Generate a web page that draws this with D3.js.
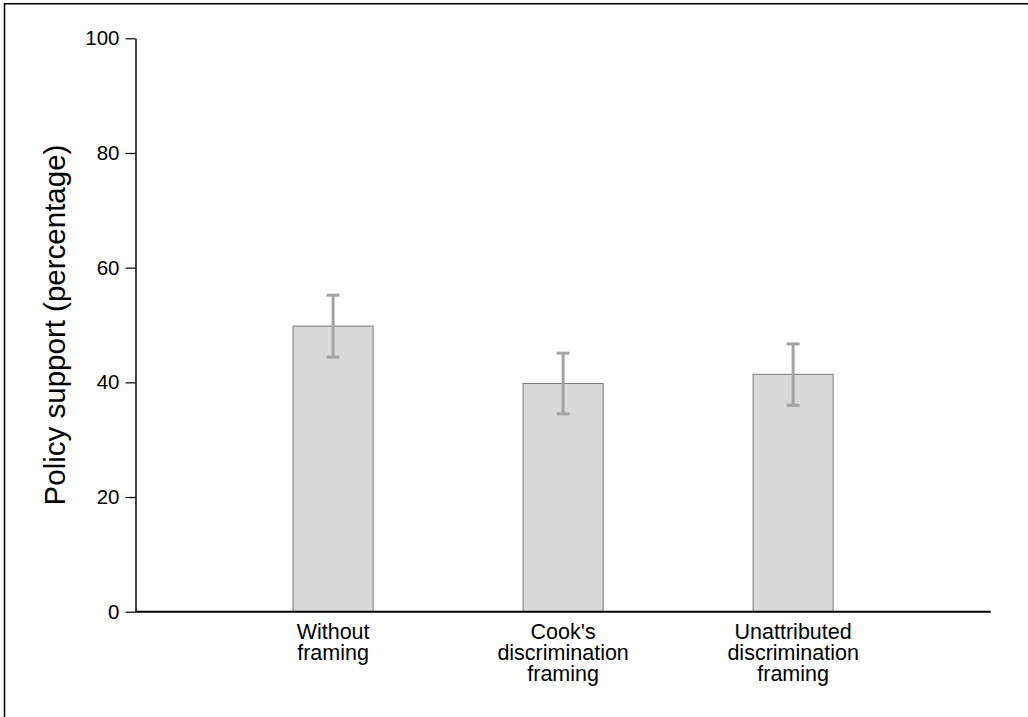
<!DOCTYPE html>
<html>
<head>
<meta charset="utf-8">
<script src="https://cdn.jsdelivr.net/npm/d3@7"></script>
<style>
  body { margin: 0; background: #fff; }
  svg { display: block; font-family: "Liberation Sans", Arial, sans-serif; }
</style>
</head>
<body>
<div id="chart"></div>
<script>
'use strict';

// data
const categories = [
  ['Without', 'framing'],
  ["Cook's", 'discrimination', 'framing'],
  ['Unattributed', 'discrimination', 'framing']
];
const means = [49.8, 39.8, 41.4];
const ciLow = [44.4, 34.5, 36.0];
const ciHigh = [55.2, 45.1, 46.7];
const yTicks = [0, 20, 40, 60, 80, 100];

const W = 1028, H = 717;
const margin = {top: 38.3, right: 37.3, bottom: 105.3, left: 135.5};
const width = W - margin.left - margin.right,
      height = H - margin.top - margin.bottom;

const svg = d3.select('#chart').append('svg')
    .attr('width', W)
    .attr('height', H);

// frame (only top and left edges show in the cropped original)
svg.append('path')
    .attr('d', 'M4.5,' + H + 'V3.8H' + W)
    .attr('fill', 'none')
    .attr('stroke', '#000')
    .attr('stroke-width', 1.5);

const g = svg.append('g')
    .attr('transform', 'translate(' + margin.left + ',' + margin.top + ')');

const keys = categories.map((c, i) => i);

const xScale = d3.scaleBand()
    .domain(keys)
    .range([0, width])
    .paddingInner(0.652)
    .paddingOuter(0.685);

const yScale = d3.scaleLinear()
    .domain([0, 100])
    .range([height, 0]);

// bars
g.selectAll('.bar')
    .data(means)
    .enter().append('rect')
    .attr('class', 'bar')
    .attr('x', (d, i) => xScale(i))
    .attr('y', d => yScale(d))
    .attr('width', xScale.bandwidth())
    .attr('height', d => yScale(0) - yScale(d))
    .attr('fill', '#d9d9d9')
    .attr('stroke', '#7a7a7a')
    .attr('stroke-width', 1);

// error bars
const capW = 6.5;
const err = g.selectAll('.err')
    .data(means)
    .enter().append('g')
    .attr('class', 'err')
    .attr('stroke', '#a3a3a3')
    .attr('stroke-width', 3);

err.append('line')
    .attr('x1', (d, i) => xScale(i) + xScale.bandwidth() / 2)
    .attr('x2', (d, i) => xScale(i) + xScale.bandwidth() / 2)
    .attr('y1', (d, i) => yScale(ciLow[i]))
    .attr('y2', (d, i) => yScale(ciHigh[i]));

err.append('line')
    .attr('x1', (d, i) => xScale(i) + xScale.bandwidth() / 2 - capW)
    .attr('x2', (d, i) => xScale(i) + xScale.bandwidth() / 2 + capW)
    .attr('y1', (d, i) => yScale(ciHigh[i]))
    .attr('y2', (d, i) => yScale(ciHigh[i]));

err.append('line')
    .attr('x1', (d, i) => xScale(i) + xScale.bandwidth() / 2 - capW)
    .attr('x2', (d, i) => xScale(i) + xScale.bandwidth() / 2 + capW)
    .attr('y1', (d, i) => yScale(ciLow[i]))
    .attr('y2', (d, i) => yScale(ciLow[i]));

// y axis
const yAxis = g.append('g')
    .call(d3.axisLeft(yScale).tickValues(yTicks).tickSize(10).tickPadding(6).tickSizeOuter(0));
yAxis.select('.domain').attr('stroke-width', 1.5);
yAxis.selectAll('.tick line').attr('stroke-width', 1.2);
yAxis.selectAll('.tick text')
    .attr('font-size', 20.5)
    .attr('font-family', '"Liberation Sans", Arial, sans-serif')
    .attr('fill', '#000');

// x axis: plain line with wrapped category labels
g.append('line')
    .attr('x1', 0).attr('x2', width)
    .attr('y1', height).attr('y2', height)
    .attr('stroke', '#000')
    .attr('stroke-width', 2);

const labels = g.selectAll('.xlabel')
    .data(categories)
    .enter().append('text')
    .attr('class', 'xlabel')
    .attr('text-anchor', 'middle')
    .attr('font-size', 21.5)
    .attr('fill', '#000')
    .attr('transform', (d, i) => 'translate(' + (xScale(i) + xScale.bandwidth() / 2) + ',' + (height + 26.8) + ')');

labels.selectAll('tspan')
    .data(d => d)
    .enter().append('tspan')
    .attr('x', 0)
    .attr('dy', (d, j) => j === 0 ? 0 : 21)
    .text(d => d);

// y axis title
svg.append('text')
    .attr('transform', 'translate(65,325) rotate(-90)')
    .attr('text-anchor', 'middle')
    .attr('font-size', 29.5)
    .attr('fill', '#000')
    .text('Policy support (percentage)');
</script>
</body>
</html>
